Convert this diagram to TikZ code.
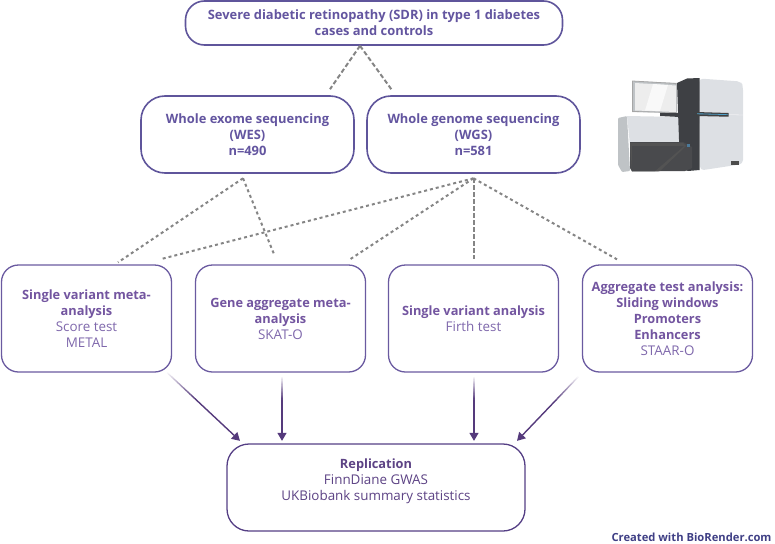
\documentclass[tikz,border=0pt]{standalone}
\usepackage{fontspec}
\setmainfont{Open Sans}
\usetikzlibrary{arrows.meta,calc}
\definecolor{topedge}{HTML}{5F559B}
\definecolor{midedge}{HTML}{6A5AA0}
\definecolor{toptext}{HTML}{6355A0}
\definecolor{boldtext}{HTML}{7355A0}
\definecolor{lighttext}{HTML}{7F68AC}
\definecolor{repedge}{HTML}{553F85}
\definecolor{reptext}{HTML}{5D4385}
\definecolor{arrowc}{HTML}{553A7C}
\definecolor{dashc}{HTML}{858585}
\definecolor{creditc}{HTML}{3F3F85}
\definecolor{shellc}{HTML}{DDE0E4}
\definecolor{sidec}{HTML}{BFC3C6}
\definecolor{columnc}{HTML}{3E4044}
\definecolor{drawerc}{HTML}{494A4D}
\definecolor{barblue}{HTML}{4FA0C8}
\definecolor{knobblue}{HTML}{4C7A9A}
\tikzset{
 x=1pt,y=-1pt,
 lines/.style={font=\fontsize{13.4}{16}\selectfont,align=center},
 headbox/.style={align=center,draw=topedge,line width=1.6pt,rounded corners=#1,fill=white,
   inner sep=0pt,text=toptext,font=\fontsize{12.9}{16}\selectfont\bfseries},
 midbox/.style={lines,draw=midedge,line width=1.3pt,rounded corners=17pt,fill=white,
   inner sep=0pt,minimum width=170pt,minimum height=107pt,text=lighttext},
 repbox/.style={lines,draw=repedge,line width=1.3pt,rounded corners=22pt,fill=white,
   inner sep=0pt,text=reptext},
 split/.style={draw=dashc,line width=2pt,dash pattern=on 4.5pt off 2.5pt},
 dotsplit/.style={draw=dashc,line width=2pt,dash pattern=on 3pt off 3pt},
 arrowhead/.style={draw=arrowc,line width=1.4pt,-{Triangle[length=8pt,width=9pt]}},
}
% Arrow whose tail fades in over its first stretch
\newcommand{\fadearrow}[2]{%
  \draw[arrowhead] ($(#1)!0.38!(#2)$) -- (#2);
  \foreach \i in {0,...,18}{%
    \pgfmathsetmacro{\sa}{\i/19*0.38}%
    \pgfmathsetmacro{\sb}{(\i+1)/19*0.38}%
    \pgfmathsetmacro{\op}{(\i+1)/19}%
    \draw[draw=arrowc,line width=1.4pt,opacity=\op] ($(#1)!\sa!(#2)$) -- ($(#1)!\sb!(#2)$);
  }%
}
\newcommand{\bold}[1]{{\fontsize{12.8}{16}\selectfont\bfseries\color{boldtext}#1}}
\begin{document}
\begin{tikzpicture}
\useasboundingbox (0,0) rectangle (775,543);
% study population and the two sequencing arms
\node[headbox=19pt,minimum width=377pt,minimum height=44pt] (sdr) at (374,23)
  {Severe diabetic retinopathy (SDR) in type 1 diabetes\\cases and controls};
\node[headbox=24pt,minimum width=213pt,minimum height=77pt] (wes) at (247.5,134.5)
  {Whole exome sequencing\\(WES)\\n=490};
\node[headbox=24pt,minimum width=213pt,minimum height=77pt] (wgs) at (473.5,134.5)
  {Whole genome sequencing\\(WGS)\\n=581};
% analysis strategies
\node[midbox] (sv) at (86.5,318.5) {\bold{Single variant meta-}\\\bold{analysis}\\Score test\\METAL};
\node[midbox] (ga) at (280.5,318.5) {\bold{Gene aggregate meta-}\\\bold{analysis}\\SKAT-O};
\node[midbox] (sa) at (473.5,318.5) {\bold{Single variant analysis}\\Firth test};
\node[midbox] (at) at (667.5,318.5) {\bold{Aggregate test analysis:}\\\bold{Sliding windows}\\\bold{Promoters}\\\bold{Enhancers}\\STAAR-O};
% replication
\node[repbox,minimum width=298pt,minimum height=87pt] (rep) at (376,487.5)
  {{\fontsize{12.8}{16}\selectfont\bfseries Replication}\\FinnDiane GWAS\\UKBiobank summary statistics\\~};
\node[font=\fontsize{11.2}{12}\selectfont\bfseries,text=creditc,anchor=east] (credit) at (775,537) {Created with BioRender.com};
% free ends of the dashed links
\coordinate (sdrfoot) at ([xshift=-14pt]sdr.south);
\coordinate (wesin) at ([xshift=82.5pt,yshift=6pt]wes.north);
\coordinate (wgsin) at ([xshift=-81.5pt,yshift=5pt]wgs.north);
\coordinate (wesfoot) at ([xshift=-4.5pt,yshift=-4.5pt]wes.south);
\coordinate (wgsfoot) at ([yshift=-4.5pt]wgs.south);
\coordinate (svA) at ([xshift=31.5pt,yshift=2pt]sv.north);
\coordinate (svB) at ([xshift=73.5pt,yshift=5pt]sv.north);
\coordinate (gaA) at ([xshift=-6pt,yshift=9pt]ga.north);
\coordinate (gaB) at ([xshift=69.5pt,yshift=5pt]ga.north);
\coordinate (saA) at ([yshift=5pt]sa.north);
\coordinate (atA) at ([xshift=-50.5pt,yshift=5pt]at.north);
\draw[split] (sdrfoot) -- (wesin);
\draw[split] (sdrfoot) -- (wgsin);
\draw[dotsplit] (wesfoot) -- (svA);
\draw[dotsplit] (wesfoot) -- (gaA);
\draw[dotsplit] (wgsfoot) -- (svB);
\draw[dotsplit] (wgsfoot) -- (gaB);
\draw[split] (wgsfoot) -- (saA);
\draw[dotsplit] (wgsfoot) -- (atA);
% arrows into replication
\coordinate (svout) at ([xshift=-5pt]sv.south east);
\coordinate (gaout) at ([xshift=1.5pt,yshift=-4pt]ga.south);
\coordinate (saout) at ([xshift=0.5pt,yshift=-4pt]sa.south);
\coordinate (atout) at ([xshift=-3.5pt,yshift=-4pt]at.south west);
\coordinate (repA) at ([xshift=-136pt,yshift=2.5pt]rep.north);
\coordinate (repB) at ([xshift=-94pt,yshift=2.5pt]rep.north);
\coordinate (repC) at ([xshift=98pt,yshift=2.5pt]rep.north);
\coordinate (repD) at ([xshift=141pt,yshift=2.5pt]rep.north);
\fadearrow{svout}{repA}
\fadearrow{gaout}{repB}
\fadearrow{saout}{repC}
\fadearrow{atout}{repD}
% sequencing instrument
\fill[sidec,rounded corners=1pt] (618,118) -- (627,116) -- (630,171) -- (622,172) -- (618,165) -- cycle;
\fill[shellc] (627,116) -- (681,117) -- (681,145) -- (630,145) -- cycle;
\fill[columnc] (660,112) -- (680,113) -- (680,117) -- (660,116) -- cycle;
\fill[shellc,rounded corners=4pt] (699,78.5) -- (741,81.5) -- (743,86) -- (743,164) -- (700,170.5) -- cycle;
\draw[white,line width=0.3pt] (699,114) -- (743,115);
\fill[sidec] (632,81) -- (677,83) -- (677,113) -- (632,112) -- cycle;
\draw[draw=gray!70,line width=0.8pt] (632.5,81) -- (676,83.5) -- (676,112.5) -- (632.5,111.5) -- cycle;
\fill[gray!14] (635,83) -- (676,85.5) -- (676,112) -- (635,110.5) -- cycle;
\fill[gray!5] (653,84) -- (668,85) -- (660,111) -- (645,110.5) -- cycle;
\fill[columnc] (677,83) -- (687,78.5) -- (699.5,78) -- (699.5,170) -- (688,171) -- (680,168) -- cycle;
\fill[drawerc] (630,142) -- (683,142) -- (692,147) -- (692,168) -- (685,171) -- (632,171.5) -- (630,168) -- cycle;
\fill[gray!65!black] (630,143) -- (683,143) -- (686,146) -- (660,171) -- (632,171) -- cycle;
\fill[drawerc] (632,146) -- (684,146) -- (655,171) -- (632,171) -- cycle;
\fill[black!75] (696,112) -- (728.5,113) -- (728.5,116.7) -- (696,116) -- cycle;
\fill[barblue] (697,113.3) -- (728,114.3) -- (728,115) -- (697,114.2) -- cycle;
\fill[knobblue] (687,144) rectangle (690,147);
\fill[black!70] (731,161) rectangle (739,165);
\end{tikzpicture}
\end{document}
